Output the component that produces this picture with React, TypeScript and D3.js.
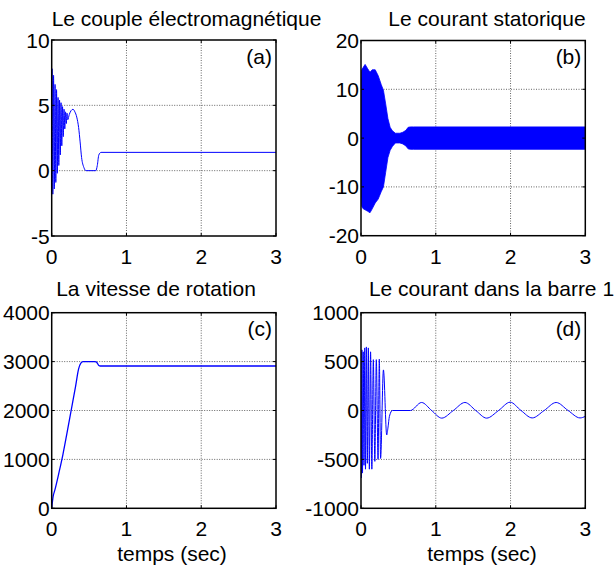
import React from "react";
import * as d3 from "d3";

// axes ticks
const xTicks = [0, 1, 2, 3];
const yTicksCouple = [-5, 0, 5, 10];
const yTicksStator = [-20, -10, 0, 10, 20];
const yTicksVitesse = [0, 1000, 2000, 3000, 4000];
const yTicksBarre = [-1000, -500, 0, 500, 1000];

// (a) couple électromagnétique
const timeCouple = [
  0, 0.005, 0.015, 0.025, 0.035, 0.045, 0.055, 0.065, 0.075, 0.085, 0.095, 0.105,
  0.115, 0.125, 0.135, 0.145, 0.155, 0.165, 0.175, 0.185, 0.195, 0.205, 0.215,
  0.235, 0.26, 0.285, 0.31, 0.335, 0.36, 0.38, 0.4, 0.43, 0.46, 0.59, 0.61, 0.63, 0.66, 3,
];
const couple = [
  0, 7.8, -1.8, 7.3, -1.4, 6.6, -0.9, 6.2, -0.2, 5.6, 0.4, 5.4,
  1.2, 5.2, 1.9, 4.9, 2.6, 4.7, 3.2, 4.5, 3.6, 4.4, 3.9,
  4.3, 4.6, 4.7, 4.5, 4.1, 3.3, 2.2, 1.0, 0.25, 0, 0, 0.4, 1.2, 1.4, 1.4,
];

// (b) courant statorique : enveloppe
const timeStator = [
  0, 0.01, 0.03, 0.055, 0.09, 0.12, 0.15, 0.19, 0.23, 0.27, 0.3, 0.33, 0.36, 0.39,
  0.42, 0.46, 0.52, 0.56, 0.6, 0.63, 0.66, 0.7, 3,
];
const statorUpper = [
  12, 14, 14.5, 15.1, 14.2, 13.5, 14, 14, 12.8, 11, 9.8, 7, 4, 2.2,
  1.5, 1.0, 1.0, 1.2, 1.6, 2.2, 2.3, 2.3, 2.3,
];
const statorLower = [
  -12, -14, -14.5, -14.7, -15, -15.3, -14.5, -13.3, -12.5, -11, -10, -7, -4, -2.5,
  -1.7, -1.0, -1.0, -1.2, -1.6, -2.2, -2.3, -2.3, -2.3,
];

// (c) vitesse de rotation
const timeVitesse = [0, 0.02, 0.04, 0.1, 0.15, 0.2, 0.26, 0.32, 0.36, 0.39, 0.42, 0.58, 0.6, 0.63, 0.65, 3];
const vitesse = [0, 250, 360, 750, 1100, 1500, 2000, 2500, 2850, 2970, 3000, 3000, 2990, 2920, 2910, 2910];

// (d) courant dans la barre 1
const timeBarre = [
  0, 0.005, 0.012, 0.02, 0.03, 0.04, 0.05, 0.06, 0.072, 0.085, 0.098, 0.112, 0.128,
  0.145, 0.165, 0.185, 0.205, 0.228, 0.245, 0.262, 0.3, 0.344, 0.36, 0.38, 0.42,
  0.66, 0.81, 0.945, 1.08, 1.235, 1.39, 1.535, 1.68, 1.84, 1.995, 2.14, 2.29, 2.45,
  2.61, 2.77, 2.93, 3,
];
const barre = [
  0, -690, 620, -640, 600, -560, 640, -600, 650, -540, 640, -600, 600,
  -600, 520, -520, 520, -500, 525, -490, 415, -250, -180, -60, 0,
  0, 82, 0, -78, 0, 82, 0, -78, 0, 85, 0, -76, 0,
  82, 0, -76, -60,
];

const FONT = "'Liberation Sans', Arial, Helvetica, sans-serif";
const FS = 21;
const BLUE = "#0000ff";

type Box = { left: number; right: number; top: number; bottom: number };
type Sc = d3.ScaleLinear<number, number>;

type PanelProps = {
  id: string;
  box: Box;
  yTicks: number[];
  title: string;
  titleX: number;
  titleY: number;
  tag: string;
  xLabelX?: number;
  draw: (x: Sc, y: Sc) => React.ReactNode;
};

const Panel = ({ id, box, yTicks, title, titleX, titleY, tag, xLabelX, draw }: PanelProps) => {
  const x = d3.scaleLinear().domain([0, 3]).range([box.left, box.right]);
  const y = d3
    .scaleLinear()
    .domain(d3.extent(yTicks) as [number, number])
    .range([box.bottom, box.top]);
  const w = box.right - box.left;
  const h = box.bottom - box.top;
  const tick = 3;

  return (
    <g>
      <defs>
        <clipPath id={id}>
          <rect x={box.left} y={box.top} width={w} height={h} />
        </clipPath>
      </defs>
      {/* grid */}
      {xTicks.slice(1, -1).map((t) => (
        <line key={"gx" + t} x1={x(t)} x2={x(t)} y1={box.top} y2={box.bottom}
          stroke="#666" strokeWidth={1} strokeDasharray="1 1.5" />
      ))}
      {yTicks.slice(1, -1).map((t) => (
        <line key={"gy" + t} x1={box.left} x2={box.right} y1={y(t)} y2={y(t)}
          stroke="#666" strokeWidth={1} strokeDasharray="1 1.5" />
      ))}
      <g clipPath={`url(#${id})`}>{draw(x, y)}</g>
      {/* frame + inward ticks */}
      <rect x={box.left} y={box.top} width={w} height={h} fill="none" stroke="#000" strokeWidth={1.5} />
      {xTicks.map((t) => (
        <g key={"tx" + t}>
          <line x1={x(t)} x2={x(t)} y1={box.bottom} y2={box.bottom - tick} stroke="#000" />
          <line x1={x(t)} x2={x(t)} y1={box.top} y2={box.top + tick} stroke="#000" />
          <text x={x(t)} y={box.bottom + 28} textAnchor="middle" fontSize={FS} fontFamily={FONT}>
            {t}
          </text>
        </g>
      ))}
      {yTicks.map((t) => (
        <g key={"ty" + t}>
          <line x1={box.left} x2={box.left + tick} y1={y(t)} y2={y(t)} stroke="#000" />
          <line x1={box.right} x2={box.right - tick} y1={y(t)} y2={y(t)} stroke="#000" />
          <text x={box.left - 2} y={y(t) + 7.5} textAnchor="end" fontSize={FS} fontFamily={FONT}>
            {t}
          </text>
        </g>
      ))}
      <text x={titleX} y={titleY} textAnchor="middle" fontSize={FS} fontFamily={FONT}>
        {title}
      </text>
      <text x={box.right - 4} y={box.top + 23.5} textAnchor="end" fontSize={FS} fontFamily={FONT}>
        {tag}
      </text>
      {xLabelX !== undefined && (
        <text x={xLabelX} y={box.bottom + 53} textAnchor="middle" fontSize={FS} fontFamily={FONT}>
          temps (sec)
        </text>
      )}
    </g>
  );
};

const linePath = (x: Sc, y: Sc, ts: number[], vs: number[]) =>
  d3
    .line<number>()
    .x((_, i) => x(ts[i]))
    .y((d) => y(d))
    .curve(d3.curveMonotoneX)(vs) || "";

export default function App() {
  return (
    <svg width={616} height={571} style={{ position: "absolute", left: 0, top: 0, background: "#fff" }}>
      <rect width={616} height={571} fill="#fff" />
      <Panel
        id="clipA"
        box={{ left: 51.7, right: 276, top: 40, bottom: 236 }}
        yTicks={yTicksCouple}
        title="Le couple électromagnétique"
        titleX={186.5}
        titleY={26}
        tag="(a)"
        draw={(x, y) => (
          <path d={linePath(x, y, timeCouple, couple)} fill="none" stroke={BLUE} strokeWidth={1} />
        )}
      />
      <Panel
        id="clipB"
        box={{ left: 361, right: 585.3, top: 40.5, bottom: 235.7 }}
        yTicks={yTicksStator}
        title="Le courant statorique"
        titleX={487}
        titleY={26}
        tag="(b)"
        draw={(x, y) => {
          const area =
            d3
              .area<number>()
              .x((_, i) => x(timeStator[i]))
              .y0((_, i) => y(statorLower[i]))
              .y1((d) => y(d))(statorUpper) || "";
          return <path d={area} fill={BLUE} stroke={BLUE} strokeWidth={0.8} />;
        }}
      />
      <Panel
        id="clipC"
        box={{ left: 51.7, right: 276, top: 312.7, bottom: 508.3 }}
        yTicks={yTicksVitesse}
        title="La vitesse de rotation"
        titleX={156}
        titleY={296}
        tag="(c)"
        xLabelX={172}
        draw={(x, y) => (
          <path d={linePath(x, y, timeVitesse, vitesse)} fill="none" stroke={BLUE} strokeWidth={1.3} />
        )}
      />
      <Panel
        id="clipD"
        box={{ left: 361, right: 585.3, top: 312.7, bottom: 508.3 }}
        yTicks={yTicksBarre}
        title="Le courant dans la barre 1"
        titleX={491.5}
        titleY={296}
        tag="(d)"
        xLabelX={482}
        draw={(x, y) => (
          <path d={linePath(x, y, timeBarre, barre)} fill="none" stroke={BLUE} strokeWidth={1} />
        )}
      />
    </svg>
  );
}
